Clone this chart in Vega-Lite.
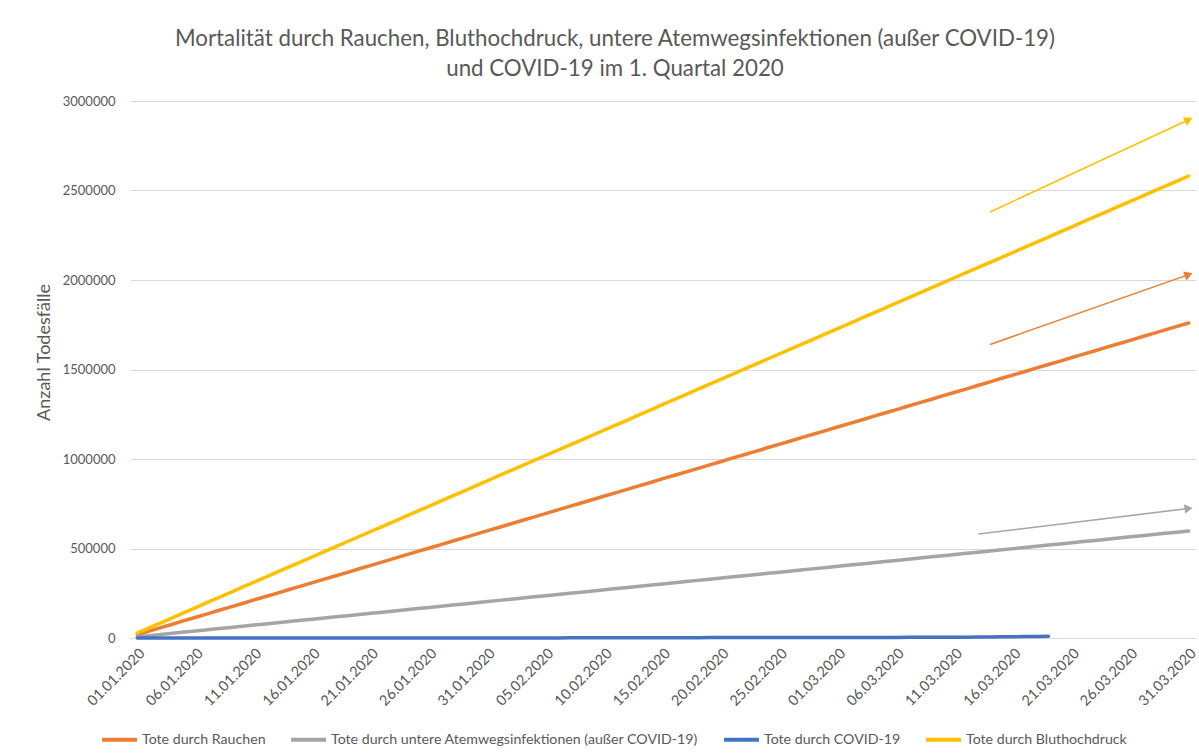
{
"$schema": "https://vega.github.io/schema/vega-lite/v6.json",
"width": 1066, "height": 537,
"autosize": {"type": "none"},
"padding": {"left": 130, "top": 101, "right": 3, "bottom": 115},
"background": "white",
"config": {"view": {"stroke": null}, "font": "Lato"},
"title": {"text": ["Mortalität durch Rauchen, Bluthochdruck, untere Atemwegsinfektionen (außer COVID-19)", "und COVID-19 im 1. Quartal 2020"], "font": "Lato", "fontSize": 22.3, "fontWeight": "normal", "color": "#595959", "lineHeight": 30, "dx": -48, "offset": 15},
"datasets": {
"main": [
{"d":"2020-01-01","s":"a","v":19000},{"d":"2020-01-02","s":"a","v":39000},{"d":"2020-01-03","s":"a","v":58000},{"d":"2020-01-04","s":"a","v":77000},{"d":"2020-01-05","s":"a","v":97000},{"d":"2020-01-06","s":"a","v":116000},{"d":"2020-01-07","s":"a","v":135000},{"d":"2020-01-08","s":"a","v":155000},{"d":"2020-01-09","s":"a","v":174000},{"d":"2020-01-10","s":"a","v":193000},{"d":"2020-01-11","s":"a","v":213000},{"d":"2020-01-12","s":"a","v":232000},{"d":"2020-01-13","s":"a","v":251000},{"d":"2020-01-14","s":"a","v":271000},{"d":"2020-01-15","s":"a","v":290000},{"d":"2020-01-16","s":"a","v":309000},{"d":"2020-01-17","s":"a","v":329000},{"d":"2020-01-18","s":"a","v":348000},{"d":"2020-01-19","s":"a","v":367000},{"d":"2020-01-20","s":"a","v":387000},{"d":"2020-01-21","s":"a","v":406000},{"d":"2020-01-22","s":"a","v":425000},{"d":"2020-01-23","s":"a","v":445000},{"d":"2020-01-24","s":"a","v":464000},{"d":"2020-01-25","s":"a","v":484000},{"d":"2020-01-26","s":"a","v":503000},{"d":"2020-01-27","s":"a","v":522000},{"d":"2020-01-28","s":"a","v":542000},{"d":"2020-01-29","s":"a","v":561000},{"d":"2020-01-30","s":"a","v":580000},{"d":"2020-01-31","s":"a","v":600000},
{"d":"2020-02-01","s":"a","v":619000},{"d":"2020-02-02","s":"a","v":638000},{"d":"2020-02-03","s":"a","v":658000},{"d":"2020-02-04","s":"a","v":677000},{"d":"2020-02-05","s":"a","v":696000},{"d":"2020-02-06","s":"a","v":716000},{"d":"2020-02-07","s":"a","v":735000},{"d":"2020-02-08","s":"a","v":754000},{"d":"2020-02-09","s":"a","v":774000},{"d":"2020-02-10","s":"a","v":793000},{"d":"2020-02-11","s":"a","v":812000},{"d":"2020-02-12","s":"a","v":832000},{"d":"2020-02-13","s":"a","v":851000},{"d":"2020-02-14","s":"a","v":870000},{"d":"2020-02-15","s":"a","v":890000},{"d":"2020-02-16","s":"a","v":909000},{"d":"2020-02-17","s":"a","v":928000},{"d":"2020-02-18","s":"a","v":948000},{"d":"2020-02-19","s":"a","v":967000},{"d":"2020-02-20","s":"a","v":986000},{"d":"2020-02-21","s":"a","v":1006000},{"d":"2020-02-22","s":"a","v":1025000},{"d":"2020-02-23","s":"a","v":1044000},{"d":"2020-02-24","s":"a","v":1064000},{"d":"2020-02-25","s":"a","v":1083000},{"d":"2020-02-26","s":"a","v":1102000},{"d":"2020-02-27","s":"a","v":1122000},{"d":"2020-02-28","s":"a","v":1141000},{"d":"2020-02-29","s":"a","v":1160000},
{"d":"2020-03-01","s":"a","v":1180000},{"d":"2020-03-02","s":"a","v":1199000},{"d":"2020-03-03","s":"a","v":1218000},{"d":"2020-03-04","s":"a","v":1238000},{"d":"2020-03-05","s":"a","v":1257000},{"d":"2020-03-06","s":"a","v":1276000},{"d":"2020-03-07","s":"a","v":1296000},{"d":"2020-03-08","s":"a","v":1315000},{"d":"2020-03-09","s":"a","v":1334000},{"d":"2020-03-10","s":"a","v":1354000},{"d":"2020-03-11","s":"a","v":1373000},{"d":"2020-03-12","s":"a","v":1392000},{"d":"2020-03-13","s":"a","v":1412000},{"d":"2020-03-14","s":"a","v":1431000},{"d":"2020-03-15","s":"a","v":1451000},{"d":"2020-03-16","s":"a","v":1470000},{"d":"2020-03-17","s":"a","v":1489000},{"d":"2020-03-18","s":"a","v":1509000},{"d":"2020-03-19","s":"a","v":1528000},{"d":"2020-03-20","s":"a","v":1547000},{"d":"2020-03-21","s":"a","v":1567000},{"d":"2020-03-22","s":"a","v":1586000},{"d":"2020-03-23","s":"a","v":1605000},{"d":"2020-03-24","s":"a","v":1625000},{"d":"2020-03-25","s":"a","v":1644000},{"d":"2020-03-26","s":"a","v":1663000},{"d":"2020-03-27","s":"a","v":1683000},{"d":"2020-03-28","s":"a","v":1702000},{"d":"2020-03-29","s":"a","v":1721000},{"d":"2020-03-30","s":"a","v":1741000},{"d":"2020-03-31","s":"a","v":1760000},
{"d":"2020-01-01","s":"b","v":6600},{"d":"2020-01-02","s":"b","v":13100},{"d":"2020-01-03","s":"b","v":19700},{"d":"2020-01-04","s":"b","v":26300},{"d":"2020-01-05","s":"b","v":32900},{"d":"2020-01-06","s":"b","v":39400},{"d":"2020-01-07","s":"b","v":46000},{"d":"2020-01-08","s":"b","v":52600},{"d":"2020-01-09","s":"b","v":59100},{"d":"2020-01-10","s":"b","v":65700},{"d":"2020-01-11","s":"b","v":72300},{"d":"2020-01-12","s":"b","v":78800},{"d":"2020-01-13","s":"b","v":85400},{"d":"2020-01-14","s":"b","v":92000},{"d":"2020-01-15","s":"b","v":98600},{"d":"2020-01-16","s":"b","v":105100},{"d":"2020-01-17","s":"b","v":111700},{"d":"2020-01-18","s":"b","v":118300},{"d":"2020-01-19","s":"b","v":124800},{"d":"2020-01-20","s":"b","v":131400},{"d":"2020-01-21","s":"b","v":138000},{"d":"2020-01-22","s":"b","v":144500},{"d":"2020-01-23","s":"b","v":151100},{"d":"2020-01-24","s":"b","v":157700},{"d":"2020-01-25","s":"b","v":164300},{"d":"2020-01-26","s":"b","v":170800},{"d":"2020-01-27","s":"b","v":177400},{"d":"2020-01-28","s":"b","v":184000},{"d":"2020-01-29","s":"b","v":190500},{"d":"2020-01-30","s":"b","v":197100},{"d":"2020-01-31","s":"b","v":203700},
{"d":"2020-02-01","s":"b","v":210200},{"d":"2020-02-02","s":"b","v":216800},{"d":"2020-02-03","s":"b","v":223400},{"d":"2020-02-04","s":"b","v":230000},{"d":"2020-02-05","s":"b","v":236500},{"d":"2020-02-06","s":"b","v":243100},{"d":"2020-02-07","s":"b","v":249700},{"d":"2020-02-08","s":"b","v":256200},{"d":"2020-02-09","s":"b","v":262800},{"d":"2020-02-10","s":"b","v":269400},{"d":"2020-02-11","s":"b","v":275900},{"d":"2020-02-12","s":"b","v":282500},{"d":"2020-02-13","s":"b","v":289100},{"d":"2020-02-14","s":"b","v":295700},{"d":"2020-02-15","s":"b","v":302200},{"d":"2020-02-16","s":"b","v":308800},{"d":"2020-02-17","s":"b","v":315400},{"d":"2020-02-18","s":"b","v":321900},{"d":"2020-02-19","s":"b","v":328500},{"d":"2020-02-20","s":"b","v":335100},{"d":"2020-02-21","s":"b","v":341600},{"d":"2020-02-22","s":"b","v":348200},{"d":"2020-02-23","s":"b","v":354800},{"d":"2020-02-24","s":"b","v":361400},{"d":"2020-02-25","s":"b","v":367900},{"d":"2020-02-26","s":"b","v":374500},{"d":"2020-02-27","s":"b","v":381100},{"d":"2020-02-28","s":"b","v":387600},{"d":"2020-02-29","s":"b","v":394200},
{"d":"2020-03-01","s":"b","v":400800},{"d":"2020-03-02","s":"b","v":407300},{"d":"2020-03-03","s":"b","v":413900},{"d":"2020-03-04","s":"b","v":420500},{"d":"2020-03-05","s":"b","v":427100},{"d":"2020-03-06","s":"b","v":433600},{"d":"2020-03-07","s":"b","v":440200},{"d":"2020-03-08","s":"b","v":446800},{"d":"2020-03-09","s":"b","v":453300},{"d":"2020-03-10","s":"b","v":459900},{"d":"2020-03-11","s":"b","v":466500},{"d":"2020-03-12","s":"b","v":473000},{"d":"2020-03-13","s":"b","v":479600},{"d":"2020-03-14","s":"b","v":486200},{"d":"2020-03-15","s":"b","v":492800},{"d":"2020-03-16","s":"b","v":499300},{"d":"2020-03-17","s":"b","v":505900},{"d":"2020-03-18","s":"b","v":512500},{"d":"2020-03-19","s":"b","v":519000},{"d":"2020-03-20","s":"b","v":525600},{"d":"2020-03-21","s":"b","v":532200},{"d":"2020-03-22","s":"b","v":538700},{"d":"2020-03-23","s":"b","v":545300},{"d":"2020-03-24","s":"b","v":551900},{"d":"2020-03-25","s":"b","v":558500},{"d":"2020-03-26","s":"b","v":565000},{"d":"2020-03-27","s":"b","v":571600},{"d":"2020-03-28","s":"b","v":578200},{"d":"2020-03-29","s":"b","v":584700},{"d":"2020-03-30","s":"b","v":591300},{"d":"2020-03-31","s":"b","v":597900},
{"d":"2020-01-01","s":"c","v":0},{"d":"2020-01-02","s":"c","v":0},{"d":"2020-01-03","s":"c","v":0},{"d":"2020-01-04","s":"c","v":0},{"d":"2020-01-05","s":"c","v":0},{"d":"2020-01-06","s":"c","v":0},{"d":"2020-01-07","s":"c","v":0},{"d":"2020-01-08","s":"c","v":0},{"d":"2020-01-09","s":"c","v":0},{"d":"2020-01-10","s":"c","v":0},{"d":"2020-01-11","s":"c","v":1},{"d":"2020-01-12","s":"c","v":1},{"d":"2020-01-13","s":"c","v":1},{"d":"2020-01-14","s":"c","v":1},{"d":"2020-01-15","s":"c","v":2},{"d":"2020-01-16","s":"c","v":2},{"d":"2020-01-17","s":"c","v":3},{"d":"2020-01-18","s":"c","v":3},{"d":"2020-01-19","s":"c","v":3},{"d":"2020-01-20","s":"c","v":6},{"d":"2020-01-21","s":"c","v":9},{"d":"2020-01-22","s":"c","v":17},{"d":"2020-01-23","s":"c","v":18},{"d":"2020-01-24","s":"c","v":26},{"d":"2020-01-25","s":"c","v":42},{"d":"2020-01-26","s":"c","v":56},{"d":"2020-01-27","s":"c","v":82},{"d":"2020-01-28","s":"c","v":131},{"d":"2020-01-29","s":"c","v":133},{"d":"2020-01-30","s":"c","v":171},{"d":"2020-01-31","s":"c","v":213},
{"d":"2020-02-01","s":"c","v":259},{"d":"2020-02-02","s":"c","v":362},{"d":"2020-02-03","s":"c","v":426},{"d":"2020-02-04","s":"c","v":492},{"d":"2020-02-05","s":"c","v":564},{"d":"2020-02-06","s":"c","v":634},{"d":"2020-02-07","s":"c","v":719},{"d":"2020-02-08","s":"c","v":806},{"d":"2020-02-09","s":"c","v":906},{"d":"2020-02-10","s":"c","v":1013},{"d":"2020-02-11","s":"c","v":1113},{"d":"2020-02-12","s":"c","v":1118},{"d":"2020-02-13","s":"c","v":1371},{"d":"2020-02-14","s":"c","v":1523},{"d":"2020-02-15","s":"c","v":1666},{"d":"2020-02-16","s":"c","v":1770},{"d":"2020-02-17","s":"c","v":1868},{"d":"2020-02-18","s":"c","v":2007},{"d":"2020-02-19","s":"c","v":2122},{"d":"2020-02-20","s":"c","v":2247},{"d":"2020-02-21","s":"c","v":2251},{"d":"2020-02-22","s":"c","v":2458},{"d":"2020-02-23","s":"c","v":2469},{"d":"2020-02-24","s":"c","v":2629},{"d":"2020-02-25","s":"c","v":2708},{"d":"2020-02-26","s":"c","v":2770},{"d":"2020-02-27","s":"c","v":2814},{"d":"2020-02-28","s":"c","v":2872},{"d":"2020-02-29","s":"c","v":2941},
{"d":"2020-03-01","s":"c","v":2996},{"d":"2020-03-02","s":"c","v":3085},{"d":"2020-03-03","s":"c","v":3160},{"d":"2020-03-04","s":"c","v":3254},{"d":"2020-03-05","s":"c","v":3348},{"d":"2020-03-06","s":"c","v":3460},{"d":"2020-03-07","s":"c","v":3558},{"d":"2020-03-08","s":"c","v":3802},{"d":"2020-03-09","s":"c","v":3988},{"d":"2020-03-10","s":"c","v":4262},{"d":"2020-03-11","s":"c","v":4615},{"d":"2020-03-12","s":"c","v":4720},{"d":"2020-03-13","s":"c","v":5404},{"d":"2020-03-14","s":"c","v":5819},{"d":"2020-03-15","s":"c","v":6440},{"d":"2020-03-16","s":"c","v":7126},{"d":"2020-03-17","s":"c","v":7905},{"d":"2020-03-18","s":"c","v":8733},{"d":"2020-03-19","s":"c","v":9867},
{"d":"2020-01-01","s":"d","v":28000},{"d":"2020-01-02","s":"d","v":57000},{"d":"2020-01-03","s":"d","v":85000},{"d":"2020-01-04","s":"d","v":113000},{"d":"2020-01-05","s":"d","v":142000},{"d":"2020-01-06","s":"d","v":170000},{"d":"2020-01-07","s":"d","v":199000},{"d":"2020-01-08","s":"d","v":227000},{"d":"2020-01-09","s":"d","v":255000},{"d":"2020-01-10","s":"d","v":284000},{"d":"2020-01-11","s":"d","v":312000},{"d":"2020-01-12","s":"d","v":340000},{"d":"2020-01-13","s":"d","v":369000},{"d":"2020-01-14","s":"d","v":397000},{"d":"2020-01-15","s":"d","v":425000},{"d":"2020-01-16","s":"d","v":454000},{"d":"2020-01-17","s":"d","v":482000},{"d":"2020-01-18","s":"d","v":510000},{"d":"2020-01-19","s":"d","v":539000},{"d":"2020-01-20","s":"d","v":567000},{"d":"2020-01-21","s":"d","v":596000},{"d":"2020-01-22","s":"d","v":624000},{"d":"2020-01-23","s":"d","v":652000},{"d":"2020-01-24","s":"d","v":681000},{"d":"2020-01-25","s":"d","v":709000},{"d":"2020-01-26","s":"d","v":737000},{"d":"2020-01-27","s":"d","v":766000},{"d":"2020-01-28","s":"d","v":794000},{"d":"2020-01-29","s":"d","v":822000},{"d":"2020-01-30","s":"d","v":851000},{"d":"2020-01-31","s":"d","v":879000},
{"d":"2020-02-01","s":"d","v":908000},{"d":"2020-02-02","s":"d","v":936000},{"d":"2020-02-03","s":"d","v":964000},{"d":"2020-02-04","s":"d","v":993000},{"d":"2020-02-05","s":"d","v":1021000},{"d":"2020-02-06","s":"d","v":1049000},{"d":"2020-02-07","s":"d","v":1078000},{"d":"2020-02-08","s":"d","v":1106000},{"d":"2020-02-09","s":"d","v":1134000},{"d":"2020-02-10","s":"d","v":1163000},{"d":"2020-02-11","s":"d","v":1191000},{"d":"2020-02-12","s":"d","v":1219000},{"d":"2020-02-13","s":"d","v":1248000},{"d":"2020-02-14","s":"d","v":1276000},{"d":"2020-02-15","s":"d","v":1305000},{"d":"2020-02-16","s":"d","v":1333000},{"d":"2020-02-17","s":"d","v":1361000},{"d":"2020-02-18","s":"d","v":1390000},{"d":"2020-02-19","s":"d","v":1418000},{"d":"2020-02-20","s":"d","v":1446000},{"d":"2020-02-21","s":"d","v":1475000},{"d":"2020-02-22","s":"d","v":1503000},{"d":"2020-02-23","s":"d","v":1531000},{"d":"2020-02-24","s":"d","v":1560000},{"d":"2020-02-25","s":"d","v":1588000},{"d":"2020-02-26","s":"d","v":1617000},{"d":"2020-02-27","s":"d","v":1645000},{"d":"2020-02-28","s":"d","v":1673000},{"d":"2020-02-29","s":"d","v":1702000},
{"d":"2020-03-01","s":"d","v":1730000},{"d":"2020-03-02","s":"d","v":1758000},{"d":"2020-03-03","s":"d","v":1787000},{"d":"2020-03-04","s":"d","v":1815000},{"d":"2020-03-05","s":"d","v":1843000},{"d":"2020-03-06","s":"d","v":1872000},{"d":"2020-03-07","s":"d","v":1900000},{"d":"2020-03-08","s":"d","v":1928000},{"d":"2020-03-09","s":"d","v":1957000},{"d":"2020-03-10","s":"d","v":1985000},{"d":"2020-03-11","s":"d","v":2014000},{"d":"2020-03-12","s":"d","v":2042000},{"d":"2020-03-13","s":"d","v":2070000},{"d":"2020-03-14","s":"d","v":2099000},{"d":"2020-03-15","s":"d","v":2127000},{"d":"2020-03-16","s":"d","v":2155000},{"d":"2020-03-17","s":"d","v":2184000},{"d":"2020-03-18","s":"d","v":2212000},{"d":"2020-03-19","s":"d","v":2240000},{"d":"2020-03-20","s":"d","v":2269000},{"d":"2020-03-21","s":"d","v":2297000},{"d":"2020-03-22","s":"d","v":2326000},{"d":"2020-03-23","s":"d","v":2354000},{"d":"2020-03-24","s":"d","v":2382000},{"d":"2020-03-25","s":"d","v":2411000},{"d":"2020-03-26","s":"d","v":2439000},{"d":"2020-03-27","s":"d","v":2467000},{"d":"2020-03-28","s":"d","v":2496000},{"d":"2020-03-29","s":"d","v":2524000},{"d":"2020-03-30","s":"d","v":2552000},{"d":"2020-03-31","s":"d","v":2581000}
],
"arrows": [
{"k":"d","d":"2020-03-14","v":2380000},{"k":"d","d":"2020-03-31","v":2895000},
{"k":"a","d":"2020-03-14","v":1640000},{"k":"a","d":"2020-03-31","v":2030000},
{"k":"b","d":"2020-03-13","v":581000},{"k":"b","d":"2020-03-31","v":724000}
]
},
"encoding": {
"x": {"field": "d", "type": "ordinal", "sort": "ascending", "title": null,
 "scale": {"type": "point", "padding": 0.63},
 "axis": {"values": ["2020-01-01","2020-01-06","2020-01-11","2020-01-16","2020-01-21","2020-01-26","2020-01-31","2020-02-05","2020-02-10","2020-02-15","2020-02-20","2020-02-25","2020-03-01","2020-03-06","2020-03-11","2020-03-16","2020-03-21","2020-03-26","2020-03-31"],
  "labelExpr": "slice(datum.label,8,10)+'.'+slice(datum.label,5,7)+'.'+slice(datum.label,0,4)",
  "labelAngle": -45, "labelFontSize": 14.5, "labelColor": "#595959", "ticks": false, "domain": false, "grid": false, "labelPadding": 8}},
"y": {"field": "v", "type": "quantitative",
 "scale": {"domain": [0, 3000000], "nice": false},
 "axis": {"values": [0,500000,1000000,1500000,2000000,2500000,3000000], "format": "d", "labelFontSize": 13, "labelColor": "#595959", "ticks": false, "domain": false, "gridColor": "#d9d9d9", "labelPadding": 15,
  "title": "Anzahl Todesfälle", "titleFontSize": 18, "titleFontWeight": "normal", "titleColor": "#595959", "titlePadding": 9, "titleY": 251}}
},
"layer": [
{"data": {"name": "main"},
 "mark": {"type": "line", "strokeWidth": 3.5, "strokeCap": "round", "strokeJoin": "round"},
 "encoding": {"color": {"field": "s", "type": "nominal",
  "scale": {"domain": ["a","b","c","d"], "range": ["#ED7D31","#A5A5A5","#4472C4","#FFC000"]},
  "legend": {"orient": "none", "legendX": -30, "legendY": 619, "direction": "horizontal", "title": null, "symbolType": "stroke", "symbolSize": 1225, "symbolStrokeWidth": 4, "labelFontSize": 14.2, "labelColor": "#595959", "labelOffset": 3, "columnPadding": 17, "labelLimit": 600,
   "labelExpr": "datum.label=='a'?'Tote durch Rauchen':datum.label=='b'?'Tote durch untere Atemwegsinfektionen (außer COVID-19)':datum.label=='c'?'Tote durch COVID-19':'Tote durch Bluthochdruck'"}}}},
{"data": {"name": "arrows"}, "transform": [{"filter": "datum.k=='d'"}], "mark": {"type": "line", "color": "#FFC000", "strokeWidth": 1.5}, "encoding": {}},
{"data": {"name": "arrows"}, "transform": [{"filter": "datum.k=='a'"}], "mark": {"type": "line", "color": "#ED7D31", "strokeWidth": 1.5}, "encoding": {}},
{"data": {"name": "arrows"}, "transform": [{"filter": "datum.k=='b'"}], "mark": {"type": "line", "color": "#A5A5A5", "strokeWidth": 1.5}, "encoding": {}},
{"data": {"name": "arrows"}, "transform": [{"filter": "datum.k=='d' && datum.d=='2020-03-31'"}], "mark": {"type": "point", "shape": "triangle-right", "filled": true, "opacity": 1, "color": "#FFC000", "size": 90, "angle": -25}, "encoding": {}},
{"data": {"name": "arrows"}, "transform": [{"filter": "datum.k=='a' && datum.d=='2020-03-31'"}], "mark": {"type": "point", "shape": "triangle-right", "filled": true, "opacity": 1, "color": "#ED7D31", "size": 90, "angle": -20}, "encoding": {}},
{"data": {"name": "arrows"}, "transform": [{"filter": "datum.k=='b' && datum.d=='2020-03-31'"}], "mark": {"type": "point", "shape": "triangle-right", "filled": true, "opacity": 1, "color": "#A5A5A5", "size": 90, "angle": -7}, "encoding": {}}
]
}
